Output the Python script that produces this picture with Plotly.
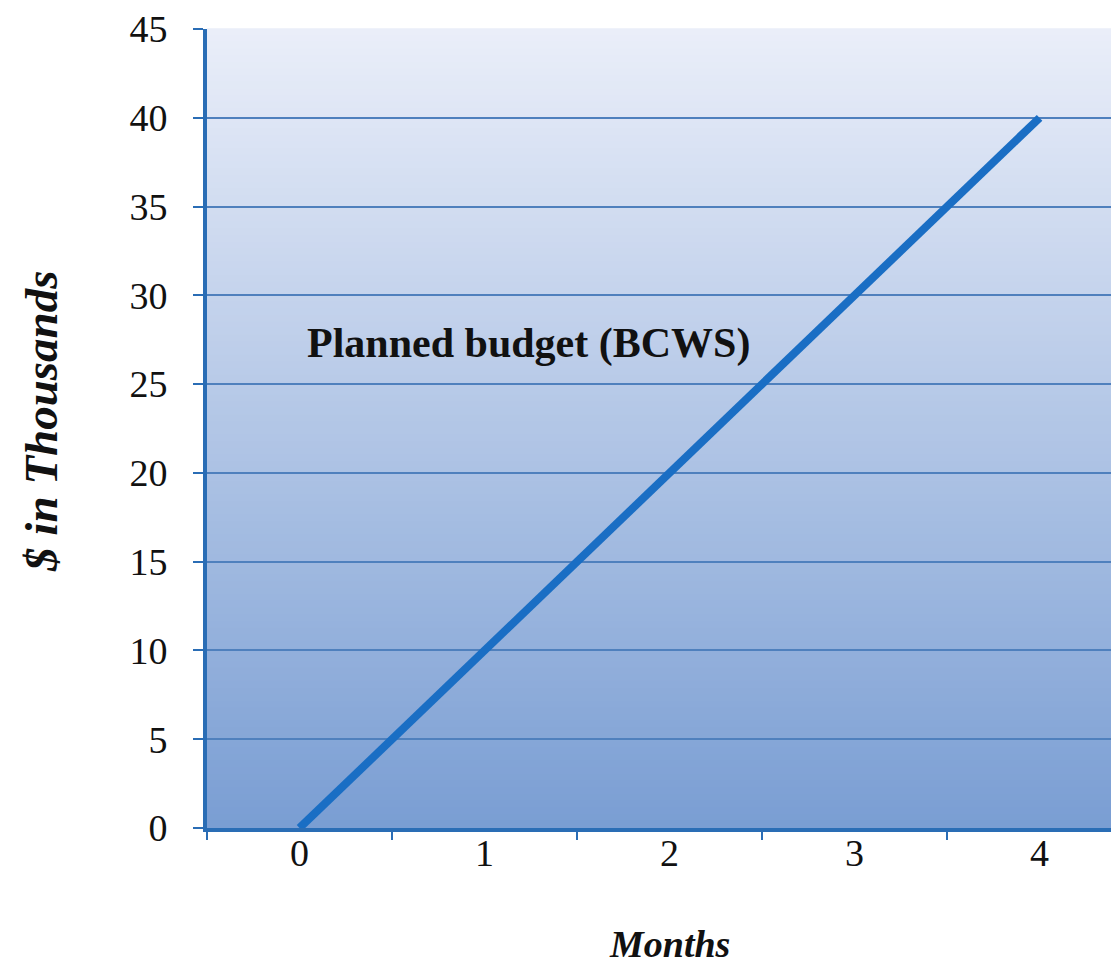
import plotly.graph_objects as go

months = ["0", "1", "2", "3", "4"]
bcws = [0, 10, 20, 30, 40]
y_ticks = [0, 5, 10, 15, 20, 25, 30, 35, 40, 45]

fig = go.Figure()
fig.add_trace(go.Scatter(x=months, y=bcws, mode="lines",
                         line=dict(color="#1a6ec4", width=8), showlegend=False))

# vertical gradient background in plot area
top = (234, 238, 249)
bot = (122, 158, 211)
n = 120
shapes = []
for i in range(n):
    t = i / (n - 1)
    c = tuple(round(top[k] + (bot[k] - top[k]) * t) for k in range(3))
    shapes.append(dict(type="rect", xref="paper", yref="paper", layer="below",
                       x0=0, x1=1, y0=1 - (i + 1) / n, y1=1 - i / n + 0.001,
                       fillcolor="rgb(%d,%d,%d)" % c, line=dict(width=0)))

serif = "Liberation Serif"
fig.update_layout(
    width=1103, height=957,
    margin=dict(l=199, r=0, t=19, b=137),
    paper_bgcolor="white", plot_bgcolor="rgba(0,0,0,0)",
    shapes=shapes,
    font=dict(family=serif, color="#111111"),
    xaxis=dict(type="category", range=[-0.5, 4.386], tickson="boundaries",
               ticks="outside", ticklen=8, tickwidth=2, tickcolor="#2a6db5",
               ticklabelstandoff=-12,
               showgrid=False, showline=True, linecolor="#2a6db5", linewidth=4,
               tickfont=dict(size=38, family=serif)),
    yaxis=dict(range=[0, 45], tickvals=y_ticks, ticks="outside", ticklen=10,
               tickwidth=2, tickcolor="#2a6db5", ticklabelstandoff=18,
               ticklabeloverflow="allow",
               showgrid=True, gridcolor="#4f80bd", gridwidth=2,
               showline=True, linecolor="#2a6db5", linewidth=4,
               zeroline=False,
               tickfont=dict(size=38, family=serif)),
    annotations=[
        dict(x=0.03, y=27.3, xref="x", yref="y", xanchor="left", yanchor="middle",
             text="<b>Planned budget (BCWS)</b>", showarrow=False,
             font=dict(size=42, family=serif, color="#111111")),
        dict(x=0.512, y=-0.145, xref="paper", yref="paper", xanchor="center", yanchor="middle",
             text="<b><i>Months</i></b>", showarrow=False,
             font=dict(size=38, family=serif, color="#111111")),
        dict(x=-0.183, y=0.509, xref="paper", yref="paper", xanchor="center", yanchor="middle",
             text="<b><i>$ in Thousands</i></b>", showarrow=False, textangle=-90,
             font=dict(size=47, family=serif, color="#111111")),
    ],
)

fig.write_html("out.html")
